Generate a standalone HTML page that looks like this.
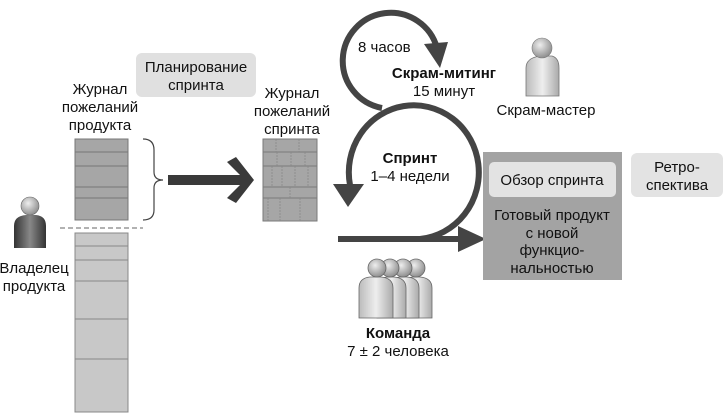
<!DOCTYPE html>
<html><head><meta charset="utf-8"><style>
html,body{margin:0;padding:0;background:#fff}
svg{display:block}
text{font-family:"Liberation Sans",sans-serif;font-size:15px;fill:#111}
.b{font-weight:bold}
</style></head><body>
<svg width="725" height="419" viewBox="0 0 725 419" xmlns="http://www.w3.org/2000/svg">
<defs>
<radialGradient id="hd" cx="0.4" cy="0.35" r="0.7"><stop offset="0" stop-color="#eee"/><stop offset="1" stop-color="#888"/></radialGradient>
<linearGradient id="bdl" x1="0" x2="1"><stop offset="0" stop-color="#bbb"/><stop offset="0.5" stop-color="#eee"/><stop offset="1" stop-color="#aaa"/></linearGradient>
<linearGradient id="bdd" x1="0" x2="1"><stop offset="0" stop-color="#333"/><stop offset="0.5" stop-color="#888"/><stop offset="1" stop-color="#333"/></linearGradient>
</defs>

<rect x="136" y="53" width="120" height="44" rx="6" fill="#e0e0e0"/>
<text x="196" y="72" text-anchor="middle">Планирование</text>
<text x="196" y="90" text-anchor="middle">спринта</text>

<text x="100" y="94" text-anchor="middle">Журнал</text>
<text x="100" y="112" text-anchor="middle">пожеланий</text>
<text x="100" y="130" text-anchor="middle">продукта</text>

<g fill="#a6a6a6" stroke="#777" stroke-width="1">
<rect x="75" y="139" width="53" height="13"/><rect x="75" y="152" width="53" height="14"/><rect x="75" y="166" width="53" height="21"/><rect x="75" y="187" width="53" height="11"/><rect x="75" y="198" width="53" height="22"/>
</g>
<g fill="#c8c8c8" stroke="#888" stroke-width="1">
<rect x="75" y="233" width="53" height="13"/><rect x="75" y="246" width="53" height="14"/><rect x="75" y="260" width="53" height="21"/><rect x="75" y="281" width="53" height="38"/><rect x="75" y="319" width="53" height="40"/><rect x="75" y="359" width="53" height="53"/>
</g>
<line x1="60" y1="228" x2="143" y2="228" stroke="#999" stroke-width="1.5" stroke-dasharray="5,3"/>

<path d="M143,139 Q154,139 154,150 L154,172 Q154,180 163,180 Q154,180 154,188 L154,210 Q154,220 143,220" fill="none" stroke="#444" stroke-width="1.2"/>

<path d="M168,175 L240,175 L227,162 L236,157 L254,180 L236,203 L227,198 L240,185 L168,185 Z" fill="#3a3a3a"/>

<text x="292" y="98" text-anchor="middle">Журнал</text>
<text x="292" y="116" text-anchor="middle">пожеланий</text>
<text x="292" y="134" text-anchor="middle">спринта</text>
<g fill="#a6a6a6" stroke="#7a7a7a" stroke-width="1">
<rect x="263" y="139" width="54" height="13"/><rect x="263" y="152" width="54" height="14"/><rect x="263" y="166" width="54" height="21"/><rect x="263" y="187" width="54" height="11"/><rect x="263" y="198" width="54" height="23"/>
</g>
<g stroke="#888" stroke-width="0.8" stroke-dasharray="2,1">
<line x1="276" y1="139" x2="276" y2="152"/><line x1="299" y1="139" x2="299" y2="152"/>
<line x1="277" y1="152" x2="277" y2="166"/><line x1="291" y1="152" x2="291" y2="166"/><line x1="305" y1="152" x2="305" y2="166"/>
<line x1="272" y1="166" x2="272" y2="187"/><line x1="282" y1="166" x2="282" y2="187"/><line x1="295" y1="166" x2="295" y2="187"/><line x1="308" y1="166" x2="308" y2="187"/>
<line x1="290" y1="187" x2="290" y2="198"/>
<line x1="268" y1="198" x2="268" y2="221"/><line x1="280" y1="198" x2="280" y2="221"/><line x1="300" y1="198" x2="300" y2="221"/>
</g>

<path d="M382,108 A48,48 0 1 1 437,48" fill="none" stroke="#444" stroke-width="6"/>
<path d="M424,44 L448,42 L440,68 Z" fill="#444"/>
<text x="358" y="52">8 часов</text>
<text x="444" y="78" text-anchor="middle" class="b">Скрам-митинг</text>
<text x="444" y="96" text-anchor="middle">15 минут</text>

<path d="M420,239 A65,67 0 1 0 350,185" fill="none" stroke="#444" stroke-width="6"/>
<path d="M333,184 L364,184 L348,207 Z" fill="#444"/>
<text x="410" y="163" text-anchor="middle" class="b">Спринт</text>
<text x="410" y="181" text-anchor="middle">1–4 недели</text>

<line x1="338" y1="239" x2="466" y2="239" stroke="#444" stroke-width="6"/>
<path d="M458,226 L486,239 L458,252 Z" fill="#444"/>

<rect x="483" y="152" width="139" height="128" fill="#a3a3a3"/>
<rect x="489" y="162" width="127" height="35" rx="5" fill="#e3e3e3"/>
<text x="552" y="185" text-anchor="middle">Обзор спринта</text>
<text x="552" y="220" text-anchor="middle">Готовый продукт</text>
<text x="552" y="238" text-anchor="middle">с новой</text>
<text x="552" y="255" text-anchor="middle">функцио-</text>
<text x="552" y="273" text-anchor="middle">нальностью</text>

<rect x="631" y="153" width="92" height="44" rx="6" fill="#e3e3e3"/>
<text x="677" y="172" text-anchor="middle">Ретро-</text>
<text x="677" y="190" text-anchor="middle">спектива</text>

<path d="M526,96 L526,68 Q526,58 540,56 L552,56 Q559,58 559,68 L559,96 Z" fill="url(#bdl)" stroke="#777" stroke-width="0.8"/>
<circle cx="542" cy="48" r="10" fill="url(#hd)" stroke="#777" stroke-width="0.6"/>
<text x="546" y="115" text-anchor="middle">Скрам-мастер</text>

<path d="M14,248 L14,226 Q14,216 26,215 L36,215 Q46,216 46,226 L46,248 Z" fill="url(#bdd)"/>
<circle cx="30" cy="206" r="9" fill="url(#hd)" stroke="#666" stroke-width="0.6"/>
<text x="34" y="273" text-anchor="middle">Владелец</text>
<text x="34" y="291" text-anchor="middle">продукта</text>

<g stroke="#666" stroke-width="0.8">
<path d="M403,318 L403,288 Q403,278 413,277 L420,277 Q432,278 432,288 L432,318 Z" fill="url(#bdl)"/>
<circle cx="416" cy="268" r="9" fill="url(#hd)"/>
<path d="M390,318 L390,288 Q390,278 400,277 L407,277 Q419,278 419,288 L419,318 Z" fill="url(#bdl)"/>
<circle cx="403" cy="268" r="9" fill="url(#hd)"/>
<path d="M377,318 L377,288 Q377,278 387,277 L394,277 Q406,278 406,288 L406,318 Z" fill="url(#bdl)"/>
<circle cx="390" cy="268" r="9" fill="url(#hd)"/>
<path d="M359,318 L359,288 Q359,278 370,277 L381,277 Q393,278 393,288 L393,318 Z" fill="url(#bdl)"/>
<circle cx="377" cy="268" r="9" fill="url(#hd)"/>
</g>
<text x="398" y="338" text-anchor="middle" class="b">Команда</text>
<text x="398" y="356" text-anchor="middle">7 ± 2 человека</text>
</svg>
</body></html>
